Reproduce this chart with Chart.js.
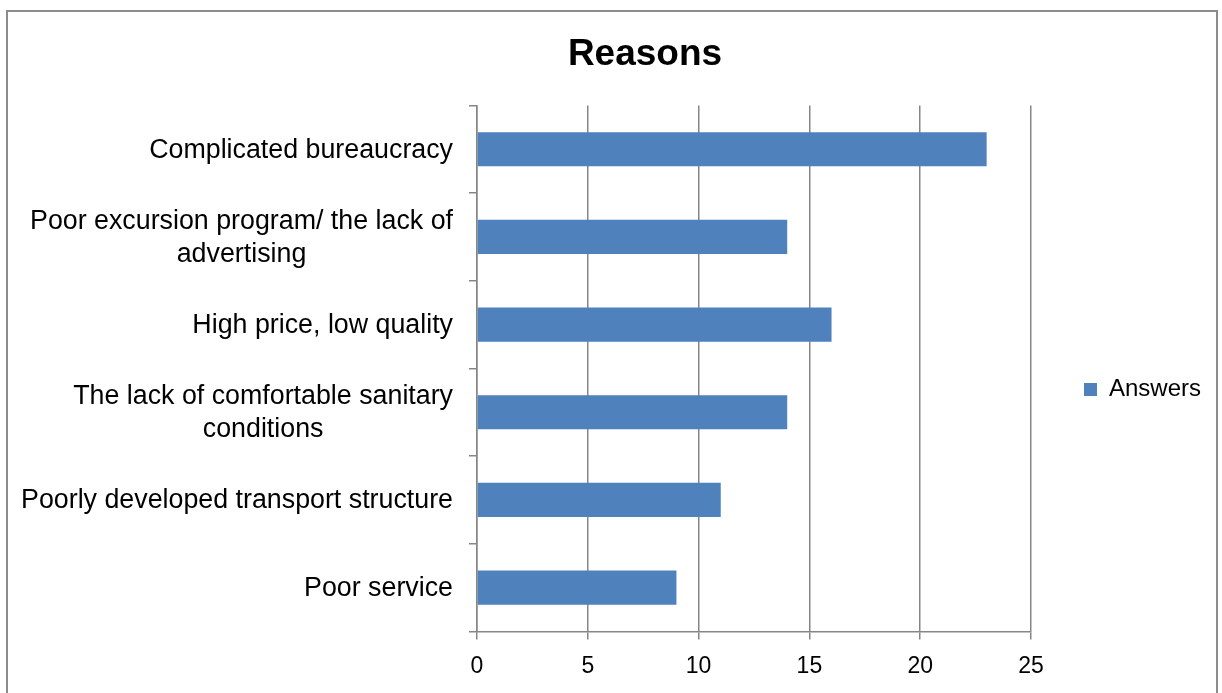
<!DOCTYPE html>
<html>
<head>
<meta charset="utf-8">
<title>Reasons</title>
<script src="https://cdn.jsdelivr.net/npm/chart.js@4"></script>
<style>
  html, body { margin: 0; padding: 0; background: #fff; overflow: hidden; }
  .frame {
    position: absolute; left: 6px; top: 10px; width: 1212px; height: 720px;
    border: 2px solid #8c8c8c; box-sizing: border-box; pointer-events: none;
  }
  canvas { position: absolute; left: 0; top: 0; }
</style>
</head>
<body>
<div class="frame"></div>
<canvas id="reasonsChart" width="1222" height="693"></canvas>
<script>
// data
const categories = [
  ['Complicated bureaucracy'],
  ['Poor excursion program/ the lack of', 'advertising'],
  ['High price, low quality'],
  ['The lack of comfortable sanitary', 'conditions'],
  ['Poorly developed transport structure'],
  ['Poor service']
];
const answers = [23, 14, 16, 14, 11, 9];
const xTicks = [0, 5, 10, 15, 20, 25];

const gridGray = '#868686';
const font = 'Liberation Sans, Arial, sans-serif';

// y labels: block right-aligned next to the axis, lines centred inside the block
const categoryLabels = {
  id: 'categoryLabels',
  afterDraw(chart) {
    const ctx = chart.ctx;
    const yScale = chart.scales.y;
    const right = chart.chartArea.left - 24;
    const lineH = 33;
    ctx.save();
    ctx.font = '26.8px ' + font;
    ctx.fillStyle = '#000';
    ctx.textAlign = 'center';
    ctx.textBaseline = 'middle';
    categories.forEach((lines, i) => {
      const y = yScale.getPixelForValue(i) + 1;
      const blockW = Math.max(...lines.map(l => ctx.measureText(l).width));
      const cx = right - blockW / 2;
      const startY = y - (lines.length - 1) * lineH / 2;
      lines.forEach((line, j) => ctx.fillText(line, cx, startY + j * lineH));
    });
    ctx.restore();
  }
};

const ctx = document.getElementById('reasonsChart').getContext('2d');
const reasonsChart = new Chart(ctx, {
  type: 'bar',
  data: {
    labels: categories.map(c => c.join(' ')),
    datasets: [{
      label: 'Answers',
      data: answers,
      backgroundColor: '#4F81BD',
      borderWidth: 0,
      barPercentage: 0.39,
      categoryPercentage: 1
    }]
  },
  options: {
    indexAxis: 'y',
    responsive: false,
    animation: false,
    layout: { padding: { left: 79, right: 11, top: 10, bottom: 0 } },
    plugins: {
      title: {
        display: true,
        text: 'Reasons',
        color: '#000',
        font: { family: font, size: 37, weight: 'bold' },
        padding: { top: 23, bottom: 28 }
      },
      legend: {
        position: 'right',
        title: { display: true, text: '', font: { size: 10 }, padding: { top: 64, bottom: 0 } },
        labels: {
          color: '#000',
          font: { family: font, size: 24 },
          boxWidth: 13,
          boxHeight: 13,
          padding: 53
        }
      },
      tooltip: { enabled: false }
    },
    scales: {
      x: {
        min: 0,
        max: 25,
        afterBuildTicks: axis => { axis.ticks = xTicks.map(v => ({ value: v })); },
        grid: { color: gridGray, lineWidth: 1.5, tickLength: 8 },
        border: { color: gridGray, width: 1.5 },
        ticks: { color: '#000', font: { family: font, size: 23 }, padding: 13 }
      },
      y: {
        offset: true,
        grid: { offset: true, drawOnChartArea: false, color: gridGray, lineWidth: 1.5, tickLength: 8 },
        border: { color: gridGray, width: 1.5 },
        ticks: { display: false },
        afterFit: axis => { axis.width = 398; }
      }
    }
  },
  plugins: [categoryLabels]
});
</script>
</body>
</html>
